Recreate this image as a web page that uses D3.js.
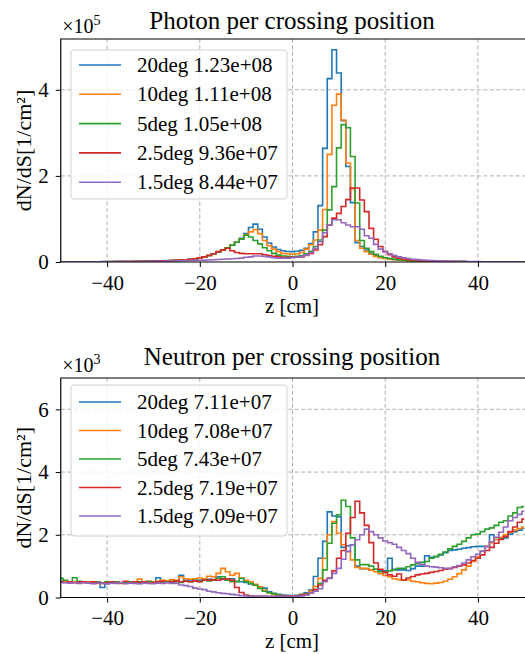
<!DOCTYPE html>
<html>
<head>
<meta charset="utf-8">
<script src="https://cdn.jsdelivr.net/npm/d3@7"></script>
<style>
  body { margin: 0; background: #fff; }
  svg text { font-family: "Liberation Serif", "DejaVu Serif", serif; fill: #000; }
</style>
</head>
<body>
<div id="chart"></div>
<script>
// bin centres in cm, 1 cm wide bins
const binCenters = d3.range(-50, 51);

const seriesLabels = ['20deg', '10deg', '5deg', '2.5deg', '1.5deg'];
const seriesColors = ['#1f77b4', '#ff7f0e', '#2ca02c', '#d62728', '#9467bd'];

const photonTotals = ['1.23e+08', '1.11e+08', '1.05e+08', '9.36e+07', '8.44e+07'];
const neutronTotals = ['7.11e+07', '7.08e+07', '7.43e+07', '7.19e+07', '7.09e+07'];

// photon dN/dS in units of 1e5, z = -50 .. 50
const photon20 = [
  0.003, 0.003, 0.004, 0.004, 0.005, 0.005, 0.006, 0.006, 0.007, 0.008,
  0.008, 0.009, 0.010, 0.011, 0.012, 0.013, 0.015, 0.016, 0.018, 0.020,
  0.022, 0.025, 0.028, 0.031, 0.035, 0.040, 0.045, 0.052, 0.060, 0.075,
  0.10, 0.12, 0.15, 0.19, 0.23, 0.28, 0.33, 0.39, 0.46, 0.55,
  0.66, 0.80, 0.88, 0.76, 0.58, 0.44, 0.35, 0.29, 0.26, 0.245,
  0.24, 0.25, 0.27, 0.32, 0.43, 0.70, 1.31, 2.64, 4.26, 4.93,
  4.39, 3.28, 2.22, 1.38, 0.45, 0.36, 0.28, 0.20, 0.15, 0.12,
  0.090, 0.075, 0.060, 0.050, 0.042, 0.035, 0.030, 0.026, 0.022, 0.019,
  0.017, 0.015, 0.013, 0.012, 0.011, 0.010, 0.009, 0.008, 0.007, 0.007,
  0.006, 0.006, 0.005, 0.005, 0.005, 0.004, 0.004, 0.004, 0.003, 0.003, 0.003
];
const photon10 = [
  0.003, 0.003, 0.004, 0.004, 0.004, 0.005, 0.005, 0.006, 0.006, 0.007,
  0.008, 0.008, 0.009, 0.010, 0.011, 0.012, 0.014, 0.015, 0.017, 0.019,
  0.021, 0.024, 0.027, 0.030, 0.034, 0.039, 0.044, 0.050, 0.058, 0.072,
  0.10, 0.12, 0.15, 0.19, 0.23, 0.28, 0.33, 0.39, 0.46, 0.53,
  0.63, 0.70, 0.75, 0.66, 0.50, 0.38, 0.30, 0.24, 0.20, 0.19,
  0.18, 0.19, 0.22, 0.30, 0.40, 0.51, 0.74, 1.22, 2.50, 3.64,
  3.90, 3.30, 2.30, 1.70, 0.50, 0.32, 0.24, 0.18, 0.13, 0.10,
  0.080, 0.065, 0.053, 0.045, 0.038, 0.032, 0.027, 0.023, 0.020, 0.017,
  0.015, 0.013, 0.012, 0.011, 0.010, 0.009, 0.008, 0.007, 0.007, 0.006,
  0.006, 0.005, 0.005, 0.005, 0.004, 0.004, 0.004, 0.003, 0.003, 0.003, 0.003
];
const photon5 = [
  0.003, 0.003, 0.003, 0.004, 0.004, 0.005, 0.005, 0.006, 0.006, 0.007,
  0.007, 0.008, 0.009, 0.010, 0.011, 0.012, 0.013, 0.015, 0.017, 0.019,
  0.021, 0.023, 0.026, 0.030, 0.034, 0.038, 0.044, 0.050, 0.058, 0.072,
  0.10, 0.12, 0.15, 0.19, 0.23, 0.28, 0.33, 0.39, 0.46, 0.53,
  0.62, 0.58, 0.50, 0.42, 0.33, 0.26, 0.20, 0.16, 0.14, 0.13,
  0.12, 0.13, 0.15, 0.19, 0.25, 0.36, 0.51, 0.74, 1.21, 1.75,
  2.65, 3.19, 3.12, 2.45, 1.37, 0.50, 0.32, 0.24, 0.18, 0.13,
  0.10, 0.080, 0.065, 0.053, 0.045, 0.038, 0.032, 0.027, 0.023, 0.020,
  0.017, 0.015, 0.013, 0.012, 0.011, 0.010, 0.009, 0.008, 0.007, 0.006,
  0.006, 0.005, 0.005, 0.005, 0.004, 0.004, 0.004, 0.003, 0.003, 0.003, 0.003
];
const photon2p5 = [
  0.002, 0.002, 0.003, 0.003, 0.003, 0.004, 0.004, 0.005, 0.005, 0.006,
  0.006, 0.007, 0.008, 0.009, 0.010, 0.011, 0.012, 0.014, 0.016, 0.018,
  0.020, 0.023, 0.026, 0.030, 0.034, 0.039, 0.045, 0.052, 0.060, 0.075,
  0.10, 0.12, 0.15, 0.19, 0.24, 0.28, 0.32, 0.26, 0.22, 0.20,
  0.19, 0.19, 0.19, 0.19, 0.17, 0.15, 0.13, 0.12, 0.11, 0.11,
  0.11, 0.11, 0.12, 0.15, 0.20, 0.28, 0.40, 0.59, 0.86, 1.02,
  1.13, 1.29, 1.45, 1.72, 1.72, 1.44, 1.17, 0.78, 0.53, 0.36,
  0.24, 0.17, 0.12, 0.090, 0.070, 0.055, 0.045, 0.037, 0.030, 0.025,
  0.021, 0.018, 0.015, 0.013, 0.011, 0.010, 0.009, 0.008, 0.007, 0.006,
  0.006, 0.005, 0.005, 0.004, 0.004, 0.004, 0.003, 0.003, 0.003, 0.003, 0.003
];
const photon1p5 = [
  0.002, 0.002, 0.003, 0.003, 0.003, 0.004, 0.004, 0.004, 0.005, 0.005,
  0.006, 0.006, 0.007, 0.008, 0.008, 0.009, 0.010, 0.011, 0.012, 0.013,
  0.015, 0.017, 0.019, 0.021, 0.023, 0.025, 0.028, 0.031, 0.034, 0.037,
  0.040, 0.044, 0.048, 0.053, 0.058, 0.064, 0.070, 0.076, 0.083, 0.090,
  0.11, 0.12, 0.14, 0.14, 0.13, 0.12, 0.10, 0.09, 0.09, 0.09,
  0.10, 0.11, 0.13, 0.16, 0.22, 0.32, 0.47, 0.68, 0.86, 0.98,
  0.98, 0.91, 0.86, 0.82, 0.82, 0.76, 0.61, 0.55, 0.41, 0.30,
  0.24, 0.19, 0.15, 0.12, 0.10, 0.080, 0.065, 0.055, 0.045, 0.038,
  0.032, 0.027, 0.023, 0.020, 0.017, 0.015, 0.013, 0.011, 0.010, 0.009,
  0.008, 0.007, 0.006, 0.006, 0.005, 0.005, 0.004, 0.004, 0.004, 0.003, 0.003
];

// neutron dN/dS in units of 1e3, z = -50 .. 50
const neutron20 = [
  0.52, 0.50, 0.49, 0.50, 0.47, 0.50, 0.48, 0.46, 0.50, 0.32,
  0.44, 0.47, 0.50, 0.46, 0.48, 0.50, 0.47, 0.45, 0.50, 0.52,
  0.50, 0.63, 0.52, 0.50, 0.48, 0.52, 0.71, 0.55, 0.56, 0.54,
  0.55, 0.57, 0.58, 0.55, 0.66, 0.60, 0.55, 0.60, 0.52, 0.50,
  0.48, 0.43, 0.40, 0.34, 0.30, 0.18, 0.13, 0.10, 0.08, 0.07,
  0.05, 0.07, 0.10, 0.15, 0.24, 0.67, 1.25, 1.79, 2.73, 2.60,
  2.58, 1.60, 1.65, 1.68, 1.00, 0.92, 0.92, 0.88, 0.90, 0.85,
  0.85, 1.25, 0.90, 0.88, 0.88, 0.86, 0.92, 1.00, 1.00, 1.33,
  1.28, 1.30, 1.36, 1.43, 1.50, 1.52, 1.54, 1.57, 1.59, 1.62,
  1.63, 1.63, 1.63, 2.00, 1.85, 1.88, 1.90, 2.02, 2.10, 2.15, 2.20
];
const neutron10 = [
  0.50, 0.50, 0.48, 0.50, 0.49, 0.47, 0.50, 0.48, 0.45, 0.47,
  0.46, 0.48, 0.50, 0.45, 0.47, 0.50, 0.48, 0.59, 0.50, 0.52,
  0.50, 0.52, 0.55, 0.53, 0.57, 0.55, 0.66, 0.60, 0.58, 0.60,
  0.62, 0.60, 0.68, 0.66, 0.77, 0.93, 0.82, 0.71, 0.77, 0.62,
  0.55, 0.50, 0.42, 0.34, 0.23, 0.15, 0.10, 0.07, 0.06, 0.05,
  0.05, 0.05, 0.08, 0.12, 0.20, 0.35, 0.61, 1.25, 2.00, 2.42,
  2.05, 1.68, 1.46, 1.20, 0.96, 0.93, 0.92, 0.88, 0.82, 0.76,
  0.70, 0.66, 0.60, 0.57, 0.55, 0.56, 0.52, 0.50, 0.47, 0.45,
  0.44, 0.46, 0.48, 0.52, 0.58, 0.66, 0.76, 0.88, 1.00, 1.15,
  1.30, 1.47, 1.63, 1.75, 1.85, 1.92, 2.00, 2.08, 2.15, 2.20, 2.25
];
const neutron5 = [
  0.61, 0.55, 0.50, 0.63, 0.52, 0.50, 0.48, 0.50, 0.50, 0.47,
  0.50, 0.48, 0.50, 0.47, 0.49, 0.50, 0.48, 0.50, 0.47, 0.50,
  0.48, 0.50, 0.49, 0.50, 0.52, 0.50, 0.48, 0.52, 0.50, 0.55,
  0.52, 0.55, 0.53, 0.56, 0.61, 0.66, 0.55, 0.50, 0.50, 0.61,
  0.50, 0.45, 0.39, 0.29, 0.20, 0.15, 0.12, 0.07, 0.05, 0.04,
  0.04, 0.05, 0.07, 0.10, 0.15, 0.25, 0.45, 0.88, 1.73, 2.37,
  2.64, 3.10, 2.90, 1.90, 1.20, 1.05, 1.05, 1.00, 0.90, 0.82,
  0.80, 0.85, 0.88, 0.93, 0.93, 0.98, 1.04, 1.08, 1.12, 1.15,
  1.25, 1.31, 1.38, 1.45, 1.55, 1.63, 1.70, 1.79, 1.90, 2.00,
  2.02, 2.10, 2.18, 2.22, 2.30, 2.40, 2.45, 2.60, 2.70, 2.87, 2.90
];
const neutron2p5 = [
  0.50, 0.48, 0.50, 0.47, 0.49, 0.50, 0.46, 0.50, 0.48, 0.45,
  0.47, 0.50, 0.46, 0.48, 0.52, 0.47, 0.50, 0.48, 0.50, 0.47,
  0.47, 0.50, 0.52, 0.48, 0.50, 0.53, 0.50, 0.52, 0.50, 0.53,
  0.50, 0.55, 0.55, 0.57, 0.55, 0.58, 0.60, 0.55, 0.32, 0.16,
  0.08, 0.05, 0.04, 0.04, 0.04, 0.03, 0.03, 0.03, 0.04, 0.04,
  0.05, 0.05, 0.07, 0.10, 0.15, 0.25, 0.40, 0.55, 0.62, 0.85,
  1.25, 1.50, 2.05, 2.55, 3.07, 2.70, 2.30, 1.75, 1.10, 0.90,
  0.80, 0.72, 0.68, 0.75, 0.56, 0.62, 0.67, 0.72, 0.75, 0.77,
  0.80, 0.83, 0.86, 0.90, 0.92, 0.96, 1.00, 1.04, 1.10, 1.18,
  1.25, 1.36, 1.50, 1.60, 1.73, 1.85, 1.95, 2.10, 2.25, 2.40, 2.50
];
const neutron1p5 = [
  0.48, 0.47, 0.46, 0.48, 0.45, 0.47, 0.46, 0.44, 0.46, 0.45,
  0.44, 0.46, 0.45, 0.47, 0.44, 0.46, 0.45, 0.44, 0.46, 0.45,
  0.44, 0.46, 0.45, 0.47, 0.45, 0.45, 0.40, 0.38, 0.35, 0.30,
  0.27, 0.25, 0.20, 0.18, 0.15, 0.13, 0.12, 0.10, 0.08, 0.06,
  0.05, 0.04, 0.04, 0.04, 0.04, 0.04, 0.04, 0.04, 0.04, 0.04,
  0.03, 0.04, 0.05, 0.08, 0.15, 0.20, 0.28, 0.50, 0.61, 0.77,
  0.93, 1.22, 1.47, 1.68, 1.84, 2.00, 2.18, 2.10, 2.00, 1.90,
  1.80, 1.75, 1.70, 1.60, 1.50, 1.40, 1.25, 1.12, 1.05, 1.00,
  0.98, 0.97, 0.95, 0.93, 0.93, 0.98, 1.02, 1.10, 1.20, 1.30,
  1.38, 1.48, 1.62, 1.78, 1.92, 2.08, 2.25, 2.45, 2.55, 2.65, 2.75
];

const xTicks = [-40, -20, 0, 20, 40];
const photonYTicks = [0, 2, 4];
const neutronYTicks = [0, 2, 4, 6];

const W = 525, H = 654;
const FONT = '"Liberation Serif", "DejaVu Serif", serif';
const svg = d3.select('#chart').append('svg')
  .attr('width', W).attr('height', H);

const panels = [
  {
    title: 'Photon per crossing position', exponent: '5',
    series: [photon20, photon10, photon5, photon2p5, photon1p5],
    totals: photonTotals, yTicks: photonYTicks, yMax: 5.18,
    top: 39, bottom: 262, titleY: 29, xLabelY: 313,
    legend: { top: 50, height: 149, first: 65, step: 29.3 }
  },
  {
    title: 'Neutron per crossing position', exponent: '3',
    series: [neutron20, neutron10, neutron5, neutron2p5, neutron1p5],
    totals: neutronTotals, yTicks: neutronYTicks, yMax: 7.0,
    top: 378, bottom: 597.5, titleY: 365, xLabelY: 648,
    legend: { top: 385, height: 151, first: 402, step: 28.5 }
  }
];

// x = 50 sits on the very edge of the picture, right spine falls outside
const left = 60.75, right = 524.25;

panels.forEach((p, pi) => drawPanel(p, pi));

function drawPanel(p, pi) {
  const x = d3.scaleLinear().domain([-50, 50]).range([left, right]);
  const y = d3.scaleLinear().domain([0, p.yMax]).range([p.bottom, p.top]);
  const g = svg.append('g');

  // grid
  g.append('g').selectAll('line').data(xTicks).enter().append('line')
    .attr('x1', d => x(d)).attr('x2', d => x(d))
    .attr('y1', p.top).attr('y2', p.bottom)
    .attr('stroke', '#b0b0b0').attr('stroke-width', 1)
    .attr('stroke-dasharray', '4,2.5');
  g.append('g').selectAll('line').data(p.yTicks.filter(d => d > 0)).enter().append('line')
    .attr('x1', left).attr('x2', W)
    .attr('y1', d => y(d)).attr('y2', d => y(d))
    .attr('stroke', '#b0b0b0').attr('stroke-width', 1)
    .attr('stroke-dasharray', '4,2.5');

  // clip to axes
  const clipId = 'clip' + pi;
  svg.append('clipPath').attr('id', clipId).append('rect')
    .attr('x', left).attr('y', p.top)
    .attr('width', right - left).attr('height', p.bottom - p.top);

  const line = d3.line()
    .x(d => x(d[0])).y(d => y(d[1]))
    .curve(d3.curveStepAfter);

  const lines = g.append('g').attr('clip-path', `url(#${clipId})`);
  p.series.forEach((vals, si) => {
    const pts = binCenters.map((c, i) => [c - 0.5, vals[i]]);
    pts.push([binCenters[binCenters.length - 1] + 0.5, vals[vals.length - 1]]);
    lines.append('path')
      .datum(pts)
      .attr('d', line)
      .attr('fill', 'none')
      .attr('stroke', seriesColors[si])
      .attr('stroke-width', 1.6)
      .attr('stroke-linejoin', 'miter');
  });

  // axes
  const xAxis = g.append('g')
    .attr('transform', `translate(0,${p.bottom})`)
    .call(d3.axisBottom(x).tickValues(xTicks).tickSize(5).tickSizeOuter(0).tickPadding(8)
      .tickFormat(d3.format('d')));
  const yAxis = g.append('g')
    .attr('transform', `translate(${left},0)`)
    .call(d3.axisLeft(y).tickValues(p.yTicks).tickSize(5).tickSizeOuter(0).tickPadding(7)
      .tickFormat(d3.format('d')));
  [xAxis, yAxis].forEach(a => {
    a.attr('font-family', FONT).attr('font-size', 21);
    a.select('.domain').remove();
    a.selectAll('line').attr('stroke', '#000').attr('stroke-width', 1);
    a.selectAll('text').attr('fill', '#000')
      .style('font-family', FONT).style('font-size', '21px');
  });

  // spines: left, top, bottom
  g.append('path')
    .attr('d', `M${W},${p.top}H${left}V${p.bottom}H${W}`)
    .attr('fill', 'none').attr('stroke', '#000').attr('stroke-width', 1.2);

  // title
  g.append('text')
    .attr('x', 292).attr('y', p.titleY)
    .attr('text-anchor', 'middle')
    .style('font-size', '25px')
    .text(p.title);

  // offset text
  const off = g.append('text')
    .attr('x', left + 1.5).attr('y', p.top - 6)
    .style('font-size', '20px');
  off.append('tspan').text('×10');
  off.append('tspan').attr('dy', -8).style('font-size', '14px').text(p.exponent);

  // axis labels
  g.append('text')
    .attr('x', 292).attr('y', p.xLabelY)
    .attr('text-anchor', 'middle')
    .style('font-size', '21px')
    .text('z [cm]');
  g.append('text')
    .attr('transform', `translate(31,${(p.top + p.bottom) / 2}) rotate(-90)`)
    .attr('text-anchor', 'middle')
    .style('font-size', '22px')
    .text('dN/dS[1/cm²]');

  // legend
  const lg = g.append('g');
  lg.append('rect')
    .attr('x', 71).attr('y', p.legend.top)
    .attr('width', 216).attr('height', p.legend.height)
    .attr('rx', 3)
    .attr('fill', '#fff').attr('fill-opacity', 0.8)
    .attr('stroke', '#d0d0d0').attr('stroke-width', 1);
  seriesLabels.forEach((lab, si) => {
    const ry = p.legend.first + si * p.legend.step;
    lg.append('line')
      .attr('x1', 79).attr('x2', 121).attr('y1', ry).attr('y2', ry)
      .attr('stroke', seriesColors[si]).attr('stroke-width', 1.6);
    lg.append('text')
      .attr('x', 137).attr('y', ry + 7)
      .style('font-size', '21px')
      .text(`${lab} ${p.totals[si]}`);
  });
}
</script>
</body>
</html>
